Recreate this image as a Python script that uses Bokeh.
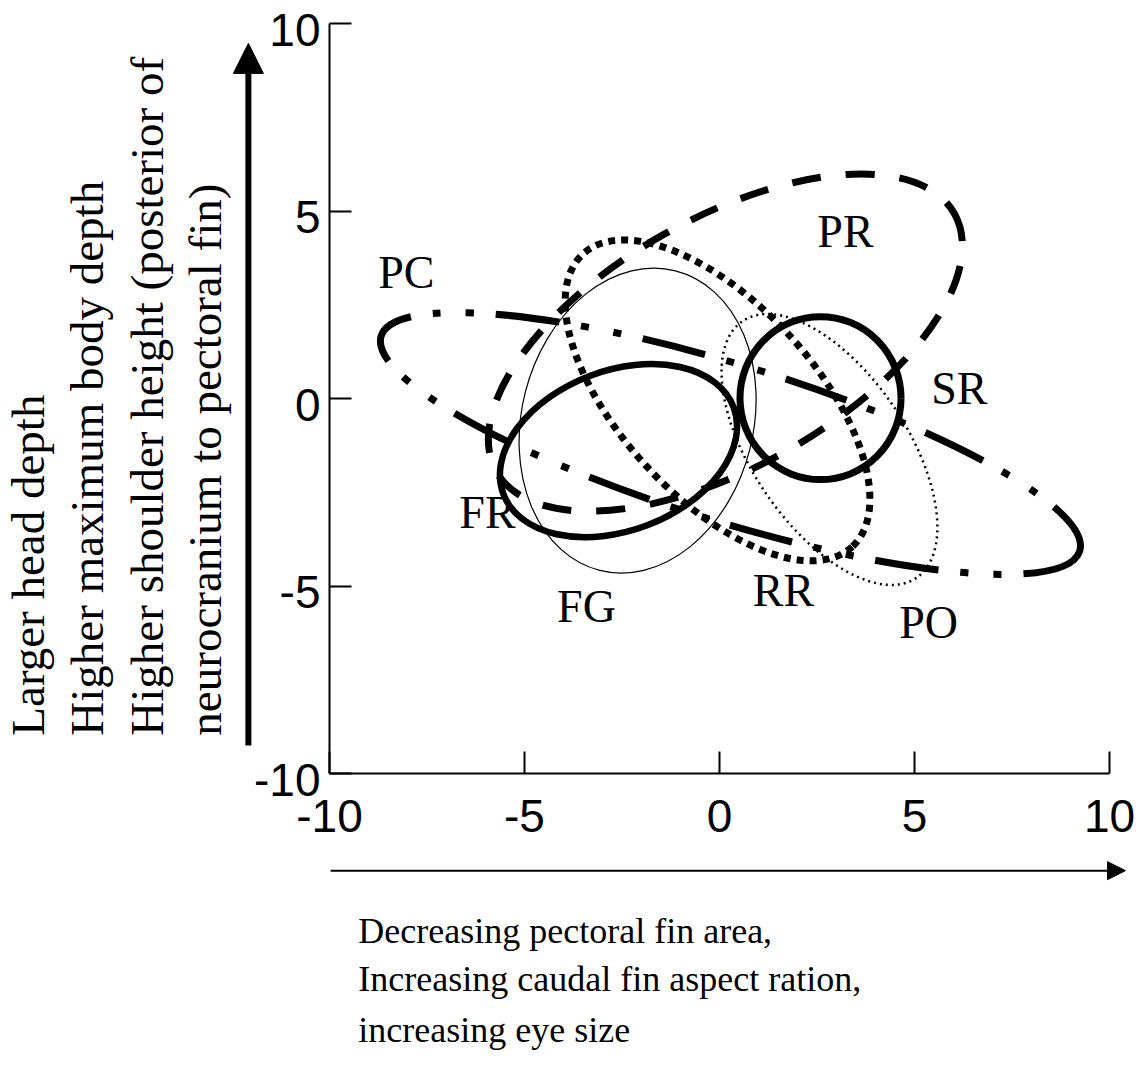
import numpy as np
from bokeh.plotting import figure
from bokeh.models import Range1d, FixedTicker, Arrow, NormalHead
from bokeh.core.properties import value
from bokeh.embed import file_html
from bokeh.resources import INLINE

# ---- data ----
groups = ["PR", "PC", "SR", "FR", "FG", "RR", "PO"]
center_x = [0.15, 0.28, 2.59, -2.59, -2.10, -0.05, 2.82]
center_y = [1.49, -1.20, 0.01, -1.39, -0.59, -0.05, -1.36]
ell_width = [13.48, 18.74, 4.13, 6.31, 5.94, 10.20, 7.95]
ell_height = [6.64, 4.18, 4.35, 4.27, 8.24, 5.17, 4.12]
ell_angle = [29.4, -17.1, 0.0, 20.6, -14.2, -47.4, -55.9]
label_x = [3.23, -8.03, 6.15, -5.95, -3.41, 1.64, 5.36]
label_y = [4.45, 3.36, 0.27, -3.04, -5.55, -5.12, -5.97]
ticks = [-10, -5, 0, 5, 10]
tick_labels = ["-10", "-5", "0", "5", "10"]
y_title_lines = ["Larger head depth",
                 "Higher maximum body depth",
                 "Higher shoulder height (posterior of",
                 "neurocranium to pectoral fin)"]
x_title_lines = ["Decreasing pectoral fin area,",
                 "Increasing caudal fin aspect ration,",
                 "increasing eye size"]

# ---- styles ----
styles = {
    "PR": dict(line_width=7, line_dash="29 25"),
    "PC": dict(line_width=7, line_dash="64 22 8 25 8 22"),
    "SR": dict(line_width=7, line_dash="solid"),
    "FR": dict(line_width=6.5, line_dash="solid"),
    "FG": dict(line_width=1.2, line_dash="solid"),
    "RR": dict(line_width=7, line_dash="7 6"),
    "PO": dict(line_width=2.5, line_dash="2 4"),
}

W, H = 1140, 1062
XPX, YPX = 39.0, 37.5          # pixels per data unit
x0 = -10 - 329 / XPX
y1 = 10 + 23 / YPX
p = figure(width=W, height=H,
           x_range=Range1d(x0, x0 + W / XPX),
           y_range=Range1d(y1 - H / YPX, y1),
           output_backend="svg", toolbar_location=None,
           min_border=0, title=None)
p.outline_line_color = None
p.grid.visible = False
p.background_fill_color = "white"
p.border_fill_color = "white"

for ax in (p.xaxis[0], p.yaxis[0]):
    ax.fixed_location = -10
    ax.bounds = (-10, 10)
    ax.ticker = FixedTicker(ticks=ticks)
    ax.major_label_overrides = {t: s for t, s in zip(ticks, tick_labels)}
    ax.major_tick_in = 22
    ax.major_tick_out = 0
    ax.minor_tick_in = 0
    ax.minor_tick_out = 0
    ax.axis_line_width = 2
    ax.major_tick_line_width = 2
    ax.axis_line_color = "black"
    ax.major_tick_line_color = "black"
    ax.major_label_text_font = "Liberation Sans"
    ax.major_label_text_font_size = "46px"
    ax.major_label_text_color = "black"
p.xaxis[0].major_label_standoff = 26
# y tick labels sit a few pixels below their ticks in the original
p.yaxis[0].major_label_text_color = None
p.text(x=[-10 - 9 / XPX] * len(ticks), y=[t - 6 / YPX for t in ticks], text=tick_labels,
       text_font=value("Liberation Sans"), text_font_size="46px",
       text_align="right", text_baseline="middle", text_color="black")

for i, g in enumerate(groups):
    p.ellipse(x=[center_x[i]], y=[center_y[i]], width=[ell_width[i]],
              height=[ell_height[i]], angle=[ell_angle[i]], angle_units="deg",
              fill_color=None, line_color="black", **styles[g])

p.text(x=label_x, y=label_y, text=groups, text_font=value("Liberation Serif"),
       text_font_size="46px", text_align="center", text_baseline="middle",
       text_color="black")

# y-axis title (rotated) and arrow
ytitle_x = [-17.73, -16.22, -14.68, -13.19]
p.text(x=ytitle_x, y=[-8.99] * 4, text=y_title_lines, angle=np.pi / 2,
       text_font=value("Liberation Serif"), text_font_size="47px",
       text_align="left", text_baseline="middle", text_color="black")
p.add_layout(Arrow(end=NormalHead(size=30, fill_color="black", line_color="black", line_width=1),
                   x_start=-12.08, y_start=-9.25, x_end=-12.08, y_end=9.47,
                   line_width=6, line_color="black"))

# x-axis title and arrow
p.text(x=[-9.26] * 3, y=[-14.19, -15.47, -16.83], text=x_title_lines,
       text_font=value("Liberation Serif"), text_font_size="36px",
       text_align="left", text_baseline="middle", text_color="black")
p.add_layout(Arrow(end=NormalHead(size=18, fill_color="black", line_color="black", line_width=1),
                   x_start=-9.97, y_start=-12.59, x_end=10.41, y_end=-12.59,
                   line_width=2, line_color="black"))

open("out.html", "w").write(file_html(p, INLINE))
